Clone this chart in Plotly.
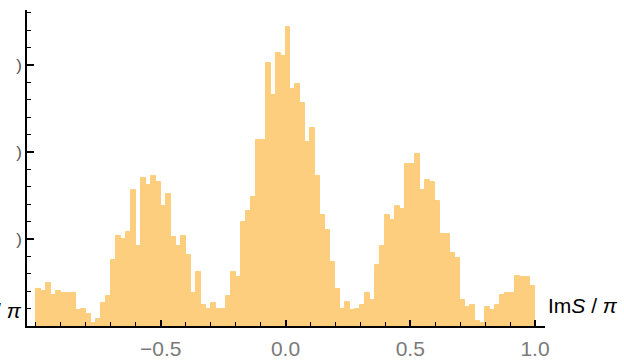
import numpy as np
import plotly.graph_objects as go

# Histogram of Im S / pi : 100 bins of width 0.02 from -1 to 1
bin_start = -1.0
bin_width = 0.02
counts = [
    21, 20, 25, 18, 20, 19, 19, 19, 9, 10,
    7, 2, 4, 13, 17, 38, 52, 50, 54, 78,
    46, 85, 81, 86, 83, 69, 76, 51, 46, 52,
    41, 19, 31, 12, 10, 13, 10, 10, 17, 31,
    28, 60, 66, 74, 107, 107, 151, 133, 157, 155,
    172, 136, 139, 128, 106, 114, 86, 64, 55, 37,
    21, 10, 14, 9, 10, 12, 19, 15, 35, 46,
    64, 61, 69, 67, 93, 93, 99, 78, 84, 83,
    72, 53, 53, 42, 39, 15, 11, 12, 3, 2,
    11, 9, 12, 18, 19, 19, 29, 28, 28, 23,
]
x_tickvals = [-0.5, 0.0, 0.5, 1.0]
x_ticktext = ["\u22120.5", "0.0", "0.5", "1.0"]
y_tickvals = [50, 100, 150]
y_ticktext = [")", ")", ")"]

centers = bin_start + bin_width * (np.arange(len(counts)) + 0.5)

fig = go.Figure()
fig.add_trace(go.Bar(
    x=centers, y=counts, width=bin_width,
    marker=dict(color="#FCCE7E", line=dict(color="#FCCE7E", width=1)),
    hoverinfo="skip",
))

fig.update_layout(
    template="none",
    width=624, height=360,
    margin=dict(l=27, r=79, t=10, b=34, pad=0),
    paper_bgcolor="white", plot_bgcolor="white",
    showlegend=False,
    bargap=0,
    font=dict(family="Liberation Sans", color="#777777", size=18),
)
fig.update_xaxes(
    range=[-1.036, 1.04], automargin=False,
    showgrid=False, zeroline=False,
    showline=True, linecolor="black", linewidth=2,
    tickmode="array", tickvals=x_tickvals, ticktext=x_ticktext,
    ticks="inside", ticklen=6, tickwidth=1.5, tickcolor="black",
    tickfont=dict(size=21, color="#7a7a7a"),
    ticklabelstandoff=3,
    minor=dict(tickmode="linear", tick0=-1.0, dtick=0.1, ticks="inside",
               ticklen=4, tickwidth=1.2, tickcolor="black", showgrid=False),
)
fig.update_yaxes(
    range=[0, 181.6], automargin=False,
    showgrid=False, zeroline=False,
    showline=True, linecolor="black", linewidth=1.6,
    tickmode="array", tickvals=y_tickvals, ticktext=y_ticktext,
    ticks="inside", ticklen=7, tickwidth=1.5, tickcolor="black",
    tickfont=dict(size=17, color="#555555"),
    ticklabelstandoff=0,
    minor=dict(tickmode="linear", tick0=0, dtick=10, ticks="inside",
               ticklen=4, tickwidth=1.2, tickcolor="black", showgrid=False),
)

fig.add_annotation(
    text="Im<i>S</i> / <i>\u03c0</i>", xref="paper", yref="y",
    x=1.0, y=12, xanchor="left", yanchor="middle", xshift=1,
    showarrow=False, font=dict(family="Liberation Sans", size=21, color="black"),
)
fig.add_annotation(
    text="/ <i>\u03c0</i>", xref="paper", yref="y",
    x=0.0, y=9, xanchor="right", yanchor="middle", xshift=-3,
    showarrow=False, font=dict(family="Liberation Sans", size=21, color="black"),
)

fig.write_html("out.html")
